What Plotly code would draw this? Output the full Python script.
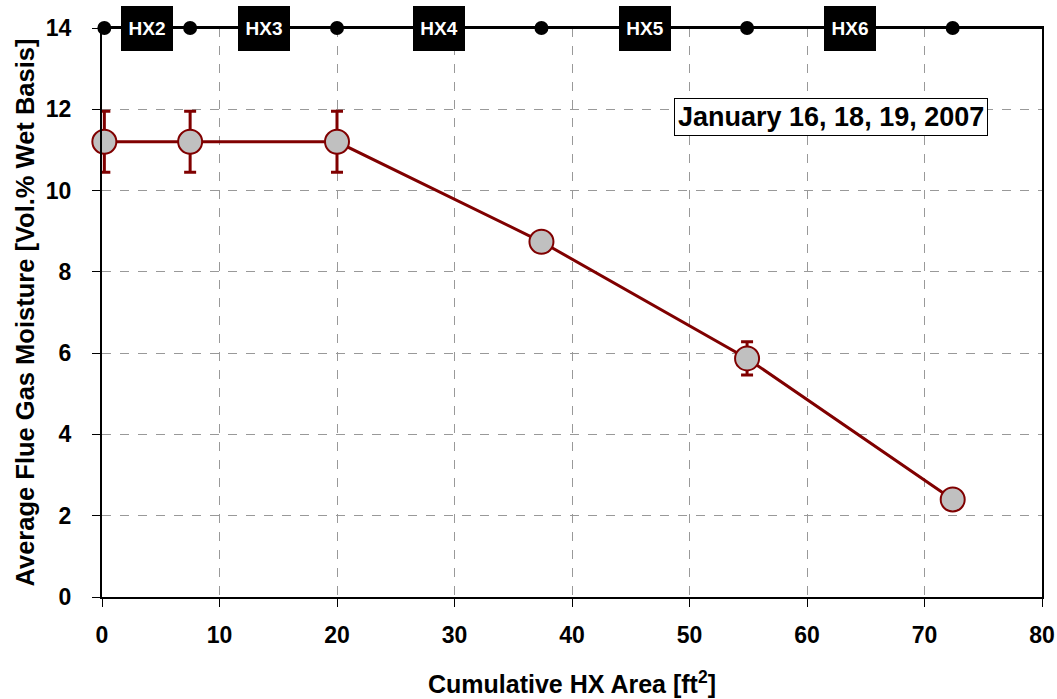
import plotly.graph_objects as go

# Data
area = [0.2, 7.5, 20.0, 37.4, 54.9, 72.4]
moisture = [11.2, 11.2, 11.2, 8.74, 5.87, 2.40]
err = [0.75, 0.75, 0.75, 0.0, 0.41, 0.0]
hx_labels = ["HX2", "HX3", "HX4", "HX5", "HX6"]
hx_centers = [3.8, 13.75, 28.7, 46.2, 63.7]
hx_level = 14
date_label = "January 16, 18, 19, 2007"

RED = "#800000"
FONT = "Liberation Sans, Arial, sans-serif"

fig = go.Figure()

# top HX node line
fig.add_trace(go.Scatter(
    x=[0, 80], y=[hx_level, hx_level], mode="lines",
    line=dict(color="black", width=2), cliponaxis=False, showlegend=False,
    hoverinfo="skip"))
fig.add_trace(go.Scatter(
    x=area, y=[hx_level] * len(area), mode="markers",
    marker=dict(color="black", size=14), cliponaxis=False, showlegend=False))

# main series
fig.add_trace(go.Scatter(
    x=area, y=moisture, mode="lines+markers",
    line=dict(color=RED, width=3),
    marker=dict(size=24, color="#C0C0C0", line=dict(color=RED, width=2)),
    error_y=dict(type="data", array=err, visible=True, color=RED,
                 thickness=3, width=6),
    cliponaxis=False, showlegend=False))

annotations = []
for lab, cx in zip(hx_labels, hx_centers):
    annotations.append(dict(
        x=cx, y=hx_level, xref="x", yref="y", text=lab, showarrow=False,
        bgcolor="black", width=48, height=41, borderpad=2, borderwidth=0,
        font=dict(family=FONT, size=19, color="white", weight="bold")))

annotations.append(dict(
    x=62.0, y=11.8, xref="x", yref="y", text=date_label, showarrow=False,
    bgcolor="white", bordercolor="black", borderwidth=1, borderpad=3,
    font=dict(family=FONT, size=27, color="black", weight="bold")))

fig.update_layout(
    width=1057, height=699,
    margin=dict(l=102, r=15, t=28, b=102),
    plot_bgcolor="white", paper_bgcolor="white",
    font=dict(family=FONT, size=21, color="black"),
    annotations=annotations,
    xaxis=dict(
        range=[0, 80], dtick=10, tick0=0, automargin=False,
        showline=True, linecolor="black", linewidth=2, mirror=True,
        ticks="outside", ticklen=8, tickcolor="black", tickwidth=1,
        ticklabelstandoff=8,
        showgrid=True, gridcolor="#999999", griddash="dash", gridwidth=1,
        zeroline=False,
        tickfont=dict(family=FONT, size=23, weight="bold"),
        title=dict(text="Cumulative HX Area [ft<sup>2</sup>]",
                   font=dict(family=FONT, size=25, weight="bold"),
                   standoff=29),
    ),
    yaxis=dict(
        range=[0, 14], dtick=2, tick0=0, automargin=False,
        showline=True, linecolor="black", linewidth=2, mirror=True,
        ticks="outside", ticklen=8, tickcolor="black", tickwidth=1,
        ticklabelstandoff=16,
        showgrid=True, gridcolor="#999999", griddash="dash", gridwidth=1,
        zeroline=False,
        tickfont=dict(family=FONT, size=23, weight="bold"),
        title=dict(text="Average Flue Gas Moisture [Vol.% Wet Basis]",
                   font=dict(family=FONT, size=25.5, weight="bold"),
                   standoff=4),
    ),
)

fig.write_html("out.html")
